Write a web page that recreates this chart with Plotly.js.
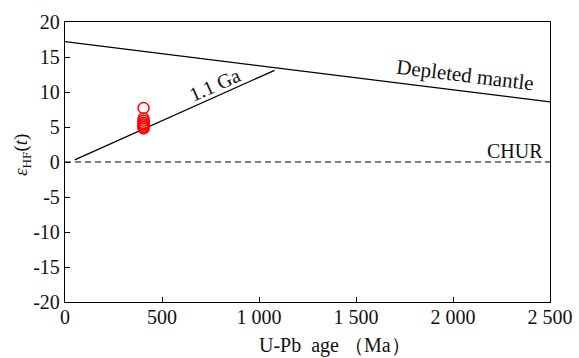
<!DOCTYPE html>
<html><head><meta charset="utf-8">
<script src="https://cdn.plot.ly/plotly-3.0.1.min.js"></script>
<style>html,body{margin:0;padding:0;background:#fff}#c{width:579px;height:358px}</style>
</head><body><div id="c"></div>
<script>
const sampleAge = [405, 405, 405, 405, 405, 405, 405, 405];
const sampleEpsHf = [7.7, 6.2, 5.9, 5.6, 5.4, 5.2, 5.0, 4.8];
const dmAge = [0, 2500];
const dmEps = [17.2, 8.6];
const crustAge = [50, 1080];
const crustEps = [0.3, 13.1];
const churAge = [0, 2500];
const churEps = [0, 0];
const xTicks = [0, 500, 1000, 1500, 2000, 2500];
const xTickText = ['0', '500', '1 000', '1 500', '2 000', '2 500'];
const yTicks = [-20, -15, -10, -5, 0, 5, 10, 15, 20];
const yTickText = ['-20', '-15', '-10', '-5', '0', '5', '10', '15', '20'];

const fam = "Liberation Serif";
const f = (s) => ({family: fam, size: s, color: '#111'});
const traces = [
  {x: dmAge, y: dmEps, mode: 'lines', line: {color: '#000', width: 1.3}, hoverinfo: 'skip'},
  {x: crustAge, y: crustEps, mode: 'lines', line: {color: '#000', width: 1.3}, hoverinfo: 'skip'},
  {x: churAge, y: churEps, mode: 'lines', line: {color: '#000', width: 1.2, dash: '6px,4px'}, hoverinfo: 'skip'},
  {x: sampleAge, y: sampleEpsHf, mode: 'markers', marker: {symbol: 'circle-open', size: 11, color: '#ff0000', line: {width: 1.5, color: '#ff0000'}}}
];
const W = 579, H = 358, L = 65, R = 29, T = 22, B = 56;
const pw = W - L - R, ph = H - T - B;
const layout = {
  width: W, height: H,
  margin: {l: L, r: R, t: T, b: B},
  showlegend: false,
  paper_bgcolor: '#fff', plot_bgcolor: '#fff',
  font: f(20),
  xaxis: {
    range: [0, 2500], tickvals: xTicks, ticktext: xTickText,
    ticks: 'inside', ticklen: 5, tickwidth: 1, tickcolor: '#000',
    showline: true, linecolor: '#000', linewidth: 1.2, mirror: true,
    showgrid: false, zeroline: false,
    tickfont: f(20), ticklabelstandoff: -3
  },
  yaxis: {
    range: [-20, 20], tickvals: yTicks, ticktext: yTickText,
    ticks: 'inside', ticklen: 5, tickwidth: 1, tickcolor: '#000',
    showline: true, linecolor: '#000', linewidth: 1.2, mirror: true,
    showgrid: false, zeroline: false,
    tickfont: f(20)
  },
  annotations: [
    {x: 2062, y: 12.4, xref: 'x', yref: 'y', text: 'Depleted mantle', showarrow: false, textangle: 7, font: f(21)},
    {x: 770, y: 11, xref: 'x', yref: 'y', text: '1.1 Ga', showarrow: false, textangle: -24, font: f(20)},
    {x: 2320, y: 1.6, xref: 'x', yref: 'y', text: 'CHUR', showarrow: false, font: f(20)},
    {x: (335 - L) / pw, y: -(345 - T - ph) / ph, xref: 'paper', yref: 'paper', xanchor: 'center', yanchor: 'middle',
     text: 'U-Pb  age （Ma）', showarrow: false, font: f(20)},
    {x: (22 - L) / pw, y: 1 - (155 - T) / ph, xref: 'paper', yref: 'paper', xanchor: 'center', yanchor: 'middle',
     text: '<i>ε</i><sub>HF</sub>(<i>t</i>)', textangle: -90, showarrow: false, font: f(19)}
  ]
};
Plotly.newPlot('c', traces, layout, {staticPlot: true, displayModeBar: false});
</script></body></html>
